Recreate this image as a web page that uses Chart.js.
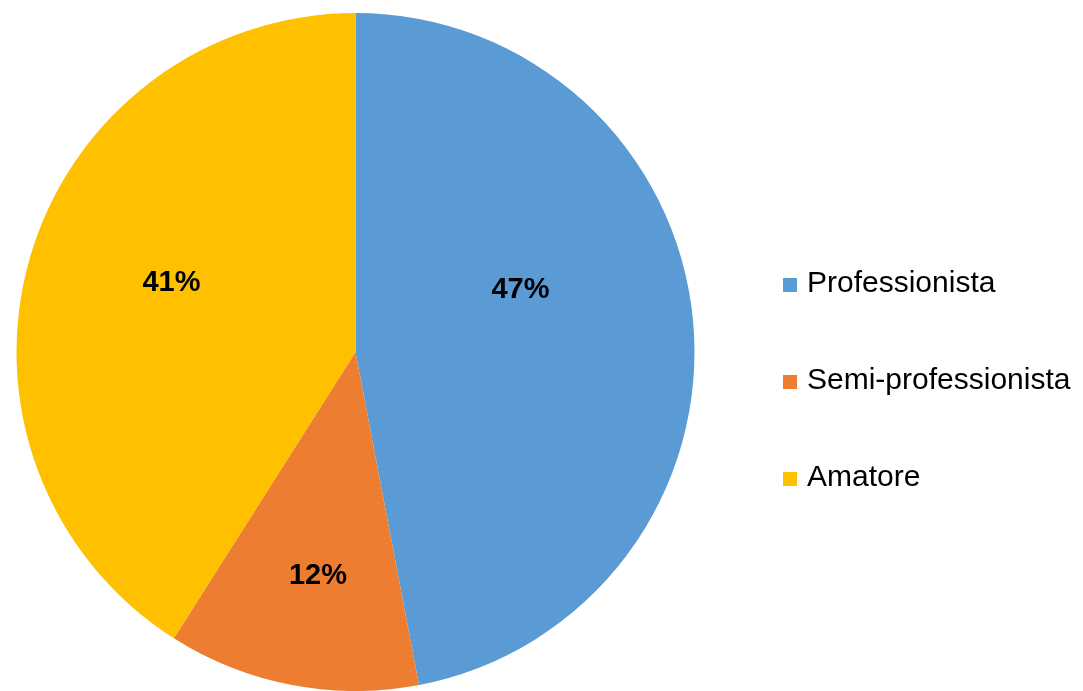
<!DOCTYPE html>
<html>
<head>
<meta charset="utf-8">
<script src="https://cdn.jsdelivr.net/npm/chart.js@4"></script>
<style>
    html, body { margin: 0; padding: 0; background: #fff; overflow: hidden; }
    canvas { display: block; }
</style>
</head>
<body>
<canvas id="pieChart" width="1083" height="691"></canvas>
<script>
// Player categories and their shares
const categories = ['Professionista', 'Semi-professionista', 'Amatore'];
const shares = [47, 12, 41];
const sliceColors = ['#5B9BD5', '#ED7D31', '#FFC000'];

// Where each percentage sits inside its slice: fraction along the arc, fraction of radius
const labelPlacement = [
    { along: 0.41, radial: 0.52 },
    { along: 0.47, radial: 0.67 },
    { along: 0.53, radial: 0.58 }
];

const fontFamily = '"Liberation Sans", Arial, sans-serif';

// Draws the bold percentage inside each slice
const sliceLabels = {
    id: 'sliceLabels',
    afterDatasetsDraw(chart) {
        const ctx = chart.ctx;
        const meta = chart.getDatasetMeta(0);
        const values = chart.data.datasets[0].data;
        const total = values.reduce((a, b) => a + b, 0);
        ctx.save();
        ctx.font = 'bold 29px ' + fontFamily;
        ctx.fillStyle = '#000';
        ctx.textAlign = 'center';
        ctx.textBaseline = 'middle';
        meta.data.forEach((arc, i) => {
            const p = labelPlacement[i];
            const angle = arc.startAngle + (arc.endAngle - arc.startAngle) * p.along;
            const r = arc.outerRadius * p.radial;
            const x = arc.x + Math.cos(angle) * r;
            const y = arc.y + Math.sin(angle) * r;
            ctx.fillText(Math.round(values[i] / total * 100) + '%', x, y);
        });
        ctx.restore();
    }
};

// Legend on the right, drawn from the chart's own labels and colours
const sideLegend = {
    id: 'sideLegend',
    afterDraw(chart, args, opts) {
        const ctx = chart.ctx;
        const labels = chart.data.labels;
        const colors = chart.data.datasets[0].backgroundColor;
        ctx.save();
        ctx.font = opts.fontSize + 'px ' + fontFamily;
        ctx.textBaseline = 'middle';
        ctx.textAlign = 'left';
        labels.forEach((label, i) => {
            const y = opts.top + i * opts.spacing;
            ctx.fillStyle = colors[i];
            ctx.fillRect(opts.left, y - opts.box / 2 + 1, opts.box, opts.box);
            ctx.fillStyle = '#000';
            ctx.fillText(label, opts.left + opts.box + 10, y);
        });
        ctx.restore();
    }
};

new Chart(document.getElementById('pieChart'), {
    type: 'pie',
    data: {
        labels: categories,
        datasets: [{
            data: shares,
            backgroundColor: sliceColors,
            borderWidth: 0
        }]
    },
    options: {
        responsive: false,
        animation: false,
        layout: {
            padding: { left: 16, right: 388, top: 13, bottom: 0 }
        },
        plugins: {
            legend: { display: false },
            tooltip: { enabled: false },
            sideLegend: { left: 783, top: 284, spacing: 97, box: 14, fontSize: 30 }
        }
    },
    plugins: [sliceLabels, sideLegend]
});
</script>
</body>
</html>
